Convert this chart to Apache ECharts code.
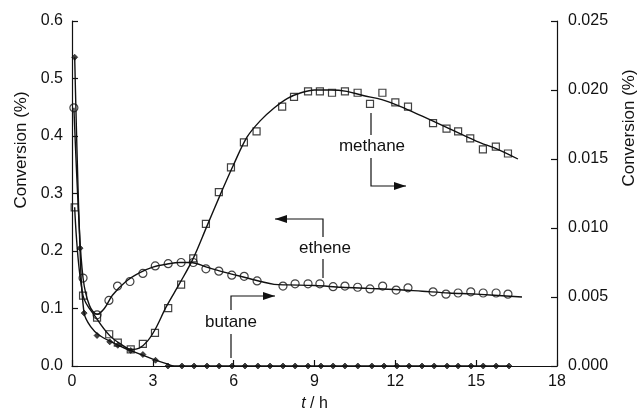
<!DOCTYPE html>
<html>
<head>
<meta charset="utf-8">
<script src="https://cdn.jsdelivr.net/npm/echarts@6/dist/echarts.min.js"></script>
<style>
  html, body { margin: 0; padding: 0; background: #fff; }
  #chart { width: 641px; height: 412px; }
</style>
</head>
<body>
<div id="chart"></div>
<script>
// tick settings
const xTicks = { min: 0, max: 18, interval: 3 };
const leftTicks = { min: 0, max: 0.6, interval: 0.1 };
const rightTicks = { min: 0, max: 0.025, interval: 0.005 };

// butane (left axis) - filled diamonds, [t / h, conversion %]
const butanePts = [
  [0.1, 0.537], [0.3, 0.205], [0.45, 0.092], [0.93, 0.053], [1.4, 0.042],
  [1.7, 0.036], [2.18, 0.027], [2.63, 0.02], [3.1, 0.01],
  [3.56, 0], [4.08, 0], [4.53, 0], [5.01, 0], [5.46, 0], [5.94, 0], [6.42, 0],
  [6.9, 0], [7.35, 0], [7.83, 0], [8.28, 0], [8.76, 0], [9.24, 0], [9.69, 0],
  [10.13, 0], [10.61, 0], [11.13, 0], [11.58, 0], [12.06, 0], [12.51, 0],
  [12.99, 0], [13.44, 0], [13.92, 0], [14.33, 0], [14.81, 0], [15.26, 0],
  [15.74, 0], [16.22, 0]
];
const butaneFit = [
  [0.1, 0.537], [0.3, 0.2], [0.45, 0.092], [0.7, 0.068], [1.0, 0.054],
  [1.5, 0.041], [2.0, 0.03], [2.5, 0.021], [3.0, 0.012], [3.5, 0.004],
  [3.8, 0.0], [16.22, 0.0]
];

// ethene (left axis) - open circles
const ethenePts = [
  [0.07, 0.449], [0.41, 0.153], [0.93, 0.089], [1.37, 0.114], [1.69, 0.139],
  [2.15, 0.147], [2.63, 0.161], [3.09, 0.174], [3.57, 0.178], [4.05, 0.18],
  [4.5, 0.18], [4.97, 0.169], [5.45, 0.165], [5.93, 0.158], [6.39, 0.156],
  [6.87, 0.148], [7.83, 0.139], [8.28, 0.143], [8.76, 0.143], [9.2, 0.143],
  [9.69, 0.138], [10.13, 0.139], [10.6, 0.137], [11.06, 0.134], [11.53, 0.139],
  [12.03, 0.132], [12.47, 0.136], [13.4, 0.129], [13.88, 0.125], [14.33, 0.127],
  [14.8, 0.129], [15.26, 0.127], [15.74, 0.127], [16.18, 0.125]
];
const etheneFit = [
  [0.07, 0.449], [0.25, 0.26], [0.41, 0.153], [0.65, 0.105], [0.93, 0.09],
  [1.2, 0.1], [1.5, 0.123], [2.0, 0.147], [2.5, 0.162], [3.0, 0.172],
  [3.5, 0.177], [4.0, 0.18], [4.4, 0.18], [5.0, 0.172], [5.5, 0.165],
  [6.0, 0.159], [6.5, 0.153], [7.0, 0.147], [7.5, 0.142], [8.0, 0.141],
  [9.0, 0.14], [10.0, 0.137], [11.0, 0.135], [12.0, 0.133], [13.0, 0.13],
  [14.0, 0.127], [15.0, 0.125], [16.7, 0.12]
];

// methane (right axis) - open squares
const methanePts = [
  [0.1, 0.0115], [0.41, 0.0051], [0.93, 0.0035], [1.38, 0.0023], [1.7, 0.0017],
  [2.18, 0.0012], [2.63, 0.0016], [3.08, 0.0024], [3.57, 0.0042], [4.05, 0.0059],
  [4.5, 0.0078], [4.97, 0.0103], [5.45, 0.0126], [5.9, 0.0144], [6.38, 0.0162],
  [6.85, 0.017], [7.8, 0.0188], [8.24, 0.0195], [8.76, 0.0199], [9.2, 0.0199],
  [9.65, 0.0198], [10.13, 0.0199], [10.6, 0.0198], [11.06, 0.019], [11.52, 0.0198],
  [12.0, 0.0191], [12.47, 0.0188], [13.4, 0.0176], [13.9, 0.0172], [14.33, 0.017],
  [14.78, 0.0165], [15.25, 0.0157], [15.73, 0.0159], [16.18, 0.0154]
];
const methaneFit = [
  [0.1, 0.0115], [0.41, 0.0051], [0.93, 0.0034], [1.4, 0.0022], [1.8, 0.0016],
  [2.2, 0.0012], [2.5, 0.0013], [2.8, 0.0018], [3.1, 0.0027], [3.5, 0.0043],
  [4.0, 0.006], [4.5, 0.0078], [5.0, 0.0101], [5.5, 0.0124], [6.0, 0.0146],
  [6.5, 0.0166], [7.0, 0.0178], [7.5, 0.0187], [8.0, 0.0194], [8.5, 0.0198],
  [9.0, 0.02], [9.6, 0.02], [10.2, 0.0199], [10.8, 0.0196], [11.5, 0.0193],
  [12.2, 0.0188], [13.0, 0.0181], [14.0, 0.0172], [15.0, 0.0163],
  [15.8, 0.0157], [16.55, 0.015]
];

const FONT = "'Liberation Sans', Arial, Helvetica, sans-serif";
const INK = "#111";

const chart = echarts.init(document.getElementById("chart"), null, { renderer: "canvas" });

const axisCommon = {
  axisLine: { show: true, lineStyle: { color: INK, width: 1.2 } },
  axisTick: { show: true, inside: true, length: 6, lineStyle: { color: INK, width: 1.2 } },
  splitLine: { show: false },
  axisLabel: { color: INK, fontSize: 16, fontFamily: FONT }
};

function fitLine(data, yIndex) {
  return {
    type: "line", data: data, yAxisIndex: yIndex, smooth: 0.35,
    showSymbol: false, symbol: "none", silent: true,
    lineStyle: { color: INK, width: 1.4 }, z: 2
  };
}

function marks(data, yIndex, symbol, size, filled) {
  return {
    type: "scatter", data: data, yAxisIndex: yIndex, symbol: symbol, symbolSize: size,
    silent: true, z: 3,
    itemStyle: filled
      ? { color: INK, borderColor: INK, borderWidth: 0.8 }
      : { color: "rgba(0,0,0,0)", borderColor: INK, borderWidth: 1.2 }
  };
}

// arrow helper for the annotation leaders (layout, not data)
function leader(points, tip, dir) {
  const [tx, ty] = tip;
  const head = dir === "left"
    ? [[tx, ty], [tx + 12, ty - 4], [tx + 12, ty + 4]]
    : [[tx, ty], [tx - 12, ty - 4], [tx - 12, ty + 4]];
  return [
    { type: "polyline", shape: { points: points }, style: { stroke: INK, lineWidth: 1.2, fill: null } },
    { type: "polygon", shape: { points: head }, style: { fill: INK } }
  ];
}

function label(text, x, y) {
  return {
    type: "text", x: x, y: y,
    style: { text: text, fill: INK, font: "17px " + FONT, align: "center", verticalAlign: "middle" }
  };
}

function vline(x, y1, y2) {
  return { type: "line", shape: { x1: x, y1: y1, x2: x, y2: y2 }, style: { stroke: INK, lineWidth: 1.2 } };
}

const option = {
  animation: false,
  backgroundColor: "#fff",
  grid: { left: 72, right: 84, top: 21, bottom: 46, outerBoundsMode: "none", containLabel: false },
  xAxis: Object.assign({}, axisCommon, {
    type: "value", min: xTicks.min, max: xTicks.max, interval: xTicks.interval,
    axisLabel: Object.assign({}, axisCommon.axisLabel, { margin: 8 }),
    name: "{i|t} / h", nameLocation: "middle", nameGap: 30,
    nameTextStyle: {
      color: INK, fontSize: 16, fontFamily: FONT,
      rich: { i: { fontStyle: "italic", fontSize: 16, fontFamily: FONT, color: INK } }
    }
  }),
  yAxis: [
    Object.assign({}, axisCommon, {
      type: "value", min: leftTicks.min, max: leftTicks.max, interval: leftTicks.interval,
      axisLabel: Object.assign({}, axisCommon.axisLabel, {
        margin: 9, formatter: v => v.toFixed(1)
      })
    }),
    Object.assign({}, axisCommon, {
      type: "value", position: "right",
      min: rightTicks.min, max: rightTicks.max, interval: rightTicks.interval,
      axisLabel: Object.assign({}, axisCommon.axisLabel, {
        margin: 11, formatter: v => v.toFixed(3)
      })
    })
  ],
  series: [
    fitLine(butaneFit, 0),
    fitLine(etheneFit, 0),
    fitLine(methaneFit, 1),
    marks(butanePts, 0, "diamond", 6, true),
    marks(ethenePts, 0, "circle", 8, false),
    marks(methanePts, 1, "rect", 7, false)
  ],
  graphic: [
    {
      type: "text", x: 21, y: 150, rotation: Math.PI / 2,
      style: { text: "Conversion (%)", fill: INK, font: "17px " + FONT, align: "center", verticalAlign: "middle" }
    },
    {
      type: "text", x: 629, y: 128, rotation: Math.PI / 2,
      style: { text: "Conversion (%)", fill: INK, font: "17px " + FONT, align: "center", verticalAlign: "middle" }
    },
    label("methane", 372, 146),
    vline(371, 113, 135),
    ...leader([[371, 158], [371, 186], [406, 186]], [406, 186], "right"),
    label("ethene", 325, 248),
    vline(323, 278, 259),
    ...leader([[323, 237], [323, 219], [275, 219]], [275, 219], "left"),
    label("butane", 231, 322),
    vline(231, 358, 334),
    ...leader([[231, 310], [231, 296], [275, 296]], [275, 296], "right")
  ]
};

chart.setOption(option);
</script>
</body>
</html>
